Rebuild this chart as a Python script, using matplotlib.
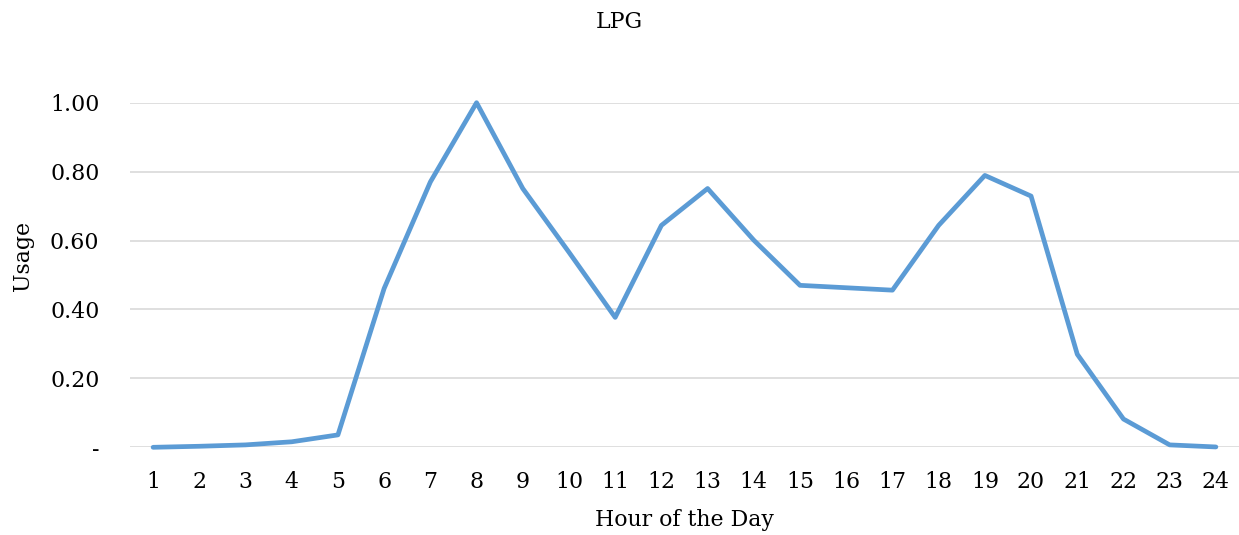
import matplotlib
matplotlib.use("Agg")
import matplotlib.pyplot as plt
from matplotlib.ticker import FixedLocator, FuncFormatter

# Hourly LPG usage profile (normalised to the daily peak)
hours = list(range(1, 25))
usage = [0.000, 0.003, 0.007, 0.016, 0.036, 0.461, 0.770, 1.000,
         0.751, 0.566, 0.377, 0.644, 0.751, 0.601, 0.470, 0.463,
         0.456, 0.644, 0.789, 0.729, 0.270, 0.082, 0.007, 0.001]
y_ticks = [0.0, 0.2, 0.4, 0.6, 0.8, 1.0]

title = "LPG"
x_label = "Hour of the Day"
y_label = "Usage"

plt.rcParams["font.family"] = ["DejaVu Serif"]
FS = 15.8

W, H = 1239, 535
fig = plt.figure(figsize=(W / 100, H / 100), dpi=100)
ax = fig.add_axes([130 / W, 1 - 447.3 / H, (W - 130) / W, (447.3 - 102.7) / H])

ax.plot(hours, usage, color="#5B9BD5", lw=3.4, solid_joinstyle="round",
        solid_capstyle="round", clip_on=False, zorder=3)

ax.set_xlim(0.5, 24.5)
ax.set_ylim(0, 1.0)
ax.xaxis.set_major_locator(FixedLocator(hours))
ax.yaxis.set_major_locator(FixedLocator(y_ticks))
ax.yaxis.set_major_formatter(FuncFormatter(lambda v, p: "-" if abs(v) < 1e-9 else f"{v:.2f}"))
ax.grid(axis="y", color="#D9D9D9", lw=1.2)
ax.set_axisbelow(True)
for s in ax.spines.values():
    s.set_visible(False)
ax.tick_params(axis="both", length=0, labelsize=FS, colors="black")
ax.tick_params(axis="x", pad=17)
ax.tick_params(axis="y", pad=22)

fig.text(619.5 / W, 1 - 22 / H, title, ha="center", va="center", fontsize=FS)
fig.text(684 / W, 1 - 520 / H, x_label, ha="center", va="center", fontsize=FS)
fig.text(23 / W, 1 - 256 / H, y_label, ha="center", va="center", rotation=90, fontsize=FS)

fig.savefig("out.png", dpi=100, facecolor="white")
